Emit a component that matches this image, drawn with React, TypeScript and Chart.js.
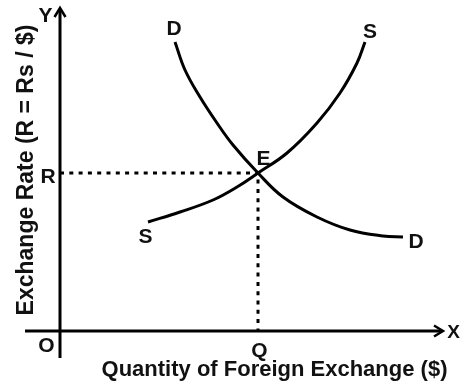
import React, { useEffect, useRef } from "react";
import { Chart, registerables } from "chart.js";

Chart.register(...registerables);

// Curve values (x = quantity of foreign exchange, y = exchange rate)
const demandX = [11.5, 12.5, 14.0, 15.7, 17.3, 19.8, 22.3, 25.7, 29.0, 32.3, 34.3];
const demandY = [28.9, 26.1, 23.4, 20.8, 18.6, 15.8, 13.4, 11.4, 10.1, 9.5, 9.4];
const supplyX = [8.8, 12.0, 15.3, 17.7, 19.8, 22.7, 25.7, 28.0, 29.7, 30.5];
const supplyY = [10.9, 11.9, 13.1, 14.4, 15.8, 17.8, 20.8, 23.8, 26.8, 28.9];
const equilibriumQ = 19.8;
const equilibriumR = 15.8;

const xRange = [-3.5, 38.5];
const yRange = [-2.7, 32.3];

const xTitle = "Quantity of Foreign Exchange ($)";
const yTitle = "Exchange Rate (R = Rs / $)";
const curveLabels = { demand: "D", supply: "S", eq: "E", r: "R", q: "Q", o: "O", xName: "X", yName: "Y" };

const toPts = (xs: number[], ys: number[]) => xs.map((x, i) => ({ x, y: ys[i] }));

const FONT = '"Liberation Sans", Arial, sans-serif';

const diagramPlugin = {
  id: "diagram",
  beforeDatasetsDraw(chart: any) {
    const { ctx, scales } = chart;
    const xs = scales.x;
    const ys = scales.y;
    const x0 = xs.getPixelForValue(0);
    const y0 = ys.getPixelForValue(0);
    const yTop = ys.getPixelForValue(yRange[1]);
    const yBot = ys.getPixelForValue(yRange[0]);
    const xLeft = xs.getPixelForValue(xRange[0]);
    const xRight = xs.getPixelForValue(xRange[1] - 0.2);
    ctx.save();
    ctx.strokeStyle = "#000";
    ctx.fillStyle = "#000";
    ctx.lineWidth = 3;
    ctx.lineCap = "butt";
    // Y axis
    ctx.beginPath();
    ctx.moveTo(x0, yBot);
    ctx.lineTo(x0, yTop + 1);
    ctx.stroke();
    ctx.lineWidth = 2.5;
    ctx.beginPath();
    ctx.moveTo(x0 - 5.5, yTop + 9);
    ctx.lineTo(x0, yTop);
    ctx.lineTo(x0 + 5.5, yTop + 9);
    ctx.stroke();
    // X axis
    ctx.lineWidth = 3;
    ctx.beginPath();
    ctx.moveTo(xLeft, y0);
    ctx.lineTo(xRight - 1, y0);
    ctx.stroke();
    ctx.lineWidth = 2.5;
    ctx.beginPath();
    ctx.moveTo(xRight - 9, y0 - 5.5);
    ctx.lineTo(xRight, y0);
    ctx.lineTo(xRight - 9, y0 + 5.5);
    ctx.stroke();
    ctx.restore();
  },
  afterDraw(chart: any) {
    const { ctx, scales } = chart;
    const xs = scales.x;
    const ys = scales.y;
    const px = (v: number) => xs.getPixelForValue(v);
    const py = (v: number) => ys.getPixelForValue(v);
    ctx.save();
    ctx.fillStyle = "#111";
    ctx.textAlign = "center";
    ctx.textBaseline = "alphabetic";
    ctx.font = `bold 21px ${FONT}`;
    const x0 = px(0);
    const y0 = py(0);
    const qx = px(equilibriumQ);
    const ry = py(equilibriumR);
    const dl = demandX.length - 1;
    const sl = supplyX.length - 1;
    ctx.fillText(curveLabels.yName, x0 - 14.5, py(yRange[1]) + 14);
    ctx.fillText(curveLabels.o, x0 - 13.5, y0 + 21);
    ctx.fillText(curveLabels.r, x0 - 12, ry + 10);
    ctx.fillText(curveLabels.q, qx + 1.5, y0 + 26);
    ctx.fillText(curveLabels.eq, qx + 5.5, ry - 8);
    ctx.fillText(curveLabels.demand, px(demandX[0]) - 1, py(demandY[0]) - 7);
    ctx.fillText(curveLabels.demand, px(demandX[dl]) + 13, py(demandY[dl]) + 11);
    ctx.fillText(curveLabels.supply, px(supplyX[sl]) + 5, py(supplyY[sl]) - 4);
    ctx.fillText(curveLabels.supply, px(supplyX[0]) - 2.5, py(supplyY[0]) + 21);
    ctx.font = `bold 19px ${FONT}`;
    ctx.fillText(curveLabels.xName, px(xRange[1]) + 8.5, y0 + 7);
    // axis titles
    ctx.font = `bold 22px ${FONT}`;
    ctx.fillText(xTitle, x0 + 214.5, y0 + 45);
    ctx.font = `bold 23px ${FONT}`;
    ctx.translate(x0 - 27, y0 - 161);
    ctx.rotate(-Math.PI / 2);
    ctx.fillText(yTitle, 0, 0);
    ctx.restore();
  },
};

export default function App() {
  const ref = useRef<HTMLCanvasElement | null>(null);
  useEffect(() => {
    if (!ref.current) return;
    const chart = new Chart(ref.current, {
      type: "scatter",
      data: {
        datasets: [
          {
            label: "Demand",
            data: toPts(demandX, demandY),
            showLine: true,
            borderColor: "#000",
            borderWidth: 3,
            pointRadius: 0,
            tension: 0.4,
          },
          {
            label: "Supply",
            data: toPts(supplyX, supplyY),
            showLine: true,
            borderColor: "#000",
            borderWidth: 3,
            pointRadius: 0,
            tension: 0.4,
          },
          {
            label: "Guides",
            data: [
              { x: 0, y: equilibriumR },
              { x: equilibriumQ, y: equilibriumR },
              { x: equilibriumQ, y: 0 },
            ],
            showLine: true,
            borderColor: "#000",
            borderWidth: 3,
            borderDash: [4, 5.3],
            pointRadius: 0,
            tension: 0,
          },
        ],
      },
      options: {
        animation: false,
        responsive: false,
        maintainAspectRatio: false,
        layout: { padding: { left: 25, right: 16, top: 8, bottom: 29 } },
        plugins: { legend: { display: false }, tooltip: { enabled: false } },
        scales: {
          x: { type: "linear", min: xRange[0], max: xRange[1], display: false },
          y: { type: "linear", min: yRange[0], max: yRange[1], display: false },
        },
      },
      plugins: [diagramPlugin],
    } as any);
    return () => chart.destroy();
  }, []);
  return (
    <div style={{ position: "fixed", left: 0, top: 0, width: 461, height: 387, background: "#fff" }}>
      <canvas ref={ref} width={461} height={387} style={{ width: 461, height: 387, display: "block" }} />
    </div>
  );
}
